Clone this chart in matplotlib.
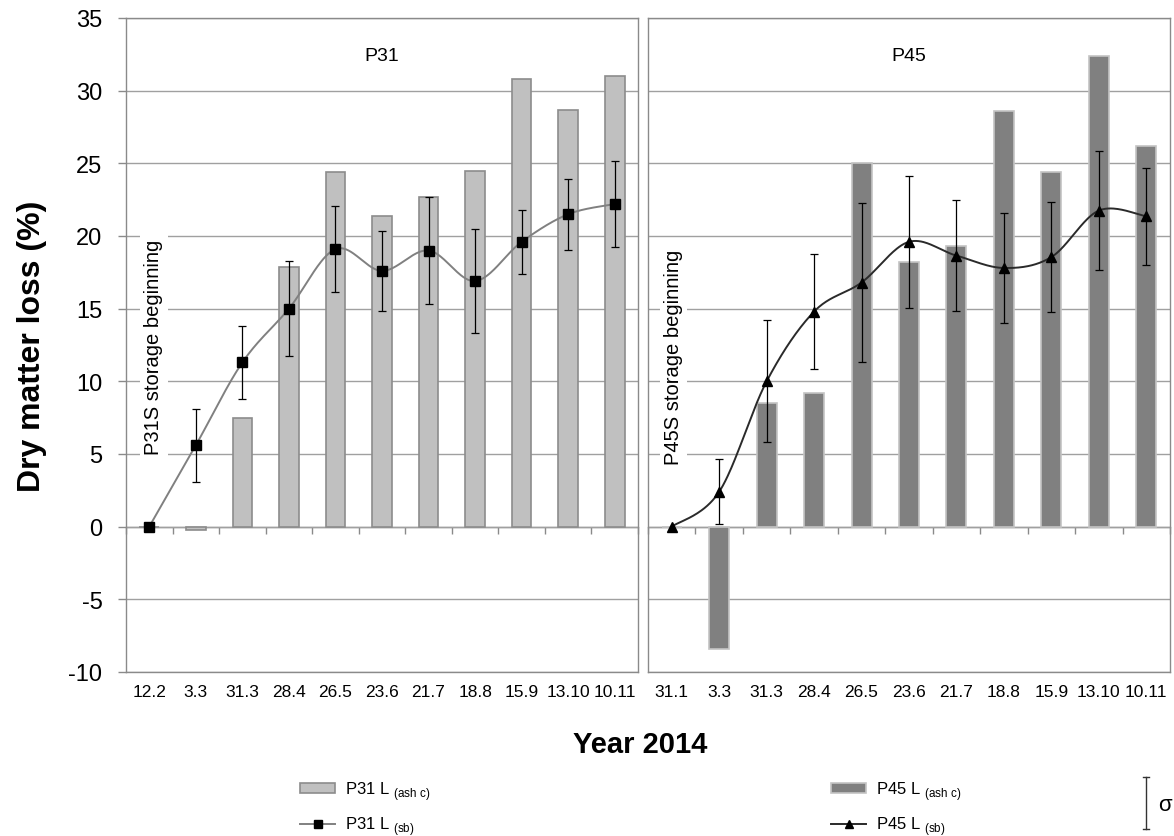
import numpy as np
import matplotlib
matplotlib.use("Agg")
import matplotlib.pyplot as plt
from matplotlib.lines import Line2D
from matplotlib.patches import Patch

plt.rcParams['font.family'] = ['Liberation Sans', 'DejaVu Sans']
plt.rcParams['mathtext.fontset'] = 'custom'
plt.rcParams['mathtext.rm'] = 'Liberation Sans'
plt.rcParams['axes.unicode_minus'] = False

# ---------------- data ----------------
dates_p31 = ["12.2", "3.3", "31.3", "28.4", "26.5", "23.6", "21.7", "18.8", "15.9", "13.10", "10.11"]
dates_p45 = ["31.1", "3.3", "31.3", "28.4", "26.5", "23.6", "21.7", "18.8", "15.9", "13.10", "10.11"]

p31_ash = [0.0, -0.2, 7.5, 17.9, 24.4, 21.4, 22.7, 24.5, 30.8, 28.7, 31.0]
p31_sb = [0.0, 5.6, 11.3, 15.0, 19.1, 17.6, 19.0, 16.9, 19.6, 21.5, 22.2]
p31_sd = [0.0, 2.5, 2.5, 3.25, 2.95, 2.75, 3.65, 3.55, 2.2, 2.45, 2.95]

p45_ash = [0.0, -8.4, 8.5, 9.2, 25.0, 18.2, 19.3, 28.6, 24.4, 32.4, 26.2]
p45_sb = [0.0, 2.4, 10.0, 14.8, 16.8, 19.6, 18.65, 17.8, 18.55, 21.75, 21.35]
p45_sd = [0.0, 2.25, 4.2, 3.95, 5.45, 4.55, 3.8, 3.8, 3.8, 4.1, 3.35]

yticks = [-10, -5, 0, 5, 10, 15, 20, 25, 30, 35]

GRID = '#a0a0a0'
SPINE = '#8a8a8a'


def smooth(xv, yv, n=40):
    pts = np.column_stack([xv, yv]).astype(float)
    m = len(pts)
    out = []
    t = np.linspace(0, 1, n)[:, None]
    for i in range(m - 1):
        p0 = pts[max(i - 1, 0)]
        p1 = pts[i]
        p2 = pts[i + 1]
        p3 = pts[min(i + 2, m - 1)]
        c1 = p1 + (p2 - p0) / 6.0
        c2 = p2 - (p3 - p1) / 6.0
        seg = ((1 - t) ** 3) * p1 + 3 * ((1 - t) ** 2) * t * c1 + 3 * (1 - t) * t ** 2 * c2 + t ** 3 * p2
        out.append(seg if i == 0 else seg[1:])
    out = np.vstack(out)
    return out[:, 0], out[:, 1]


fig = plt.figure(figsize=(11.74, 8.37), dpi=100)
W, H = 1174.0, 837.0
ax1 = fig.add_axes([126 / W, 1 - 673 / H, 512 / W, 654 / H])
ax2 = fig.add_axes([648 / W, 1 - 673 / H, 522 / W, 654 / H])


def panel(ax, labels, ash, sb, sd, bar_fc, bar_ec, line_c, marker, title, note, note_xy):
    x = np.arange(len(labels))
    ax.set_xlim(-0.5, len(labels) - 0.5)
    ax.set_ylim(-10, 35)
    ax.set_axisbelow(True)
    ax.yaxis.grid(True, color=GRID, linewidth=1.0)
    ax.bar(x, ash, width=0.42, color=bar_fc, edgecolor=bar_ec, linewidth=1.2, zorder=2)
    xs, ys = smooth(x, sb)
    ax.plot(xs, ys, color=line_c, linewidth=1.4, zorder=3)
    sd = np.asarray(sd)
    mask = sd > 0
    ax.errorbar(x[mask], np.asarray(sb)[mask], yerr=sd[mask], fmt='none', ecolor='black',
                elinewidth=0.9, capsize=3, capthick=0.9, zorder=4)
    ax.plot(x, sb, linestyle='none', marker=marker, color='black', markersize=6.5, zorder=5)
    ax.set_xticks(x, labels)
    ax.tick_params(axis='x', length=0, pad=9, labelsize=12.5)
    for s in ax.spines.values():
        s.set_color(SPINE)
        s.set_linewidth(1.0)
    sec = ax.secondary_xaxis(0, transform=ax.transData)
    sec.set_xticks(np.arange(-0.5, len(labels), 1.0))
    sec.tick_params(axis='x', length=5, width=1.0, color=SPINE, labelbottom=False, direction='out')
    sec.spines['bottom'].set_color(SPINE)
    sec.spines['bottom'].set_linewidth(1.0)
    ax.text((len(labels) - 1) / 2, 32.4, title, ha='center', va='center', fontsize=14)
    ax.text(note_xy[0], note_xy[1], note, rotation=90, ha='center', va='center', fontsize=14.5,
            bbox=dict(facecolor='white', edgecolor='none', pad=3), zorder=3.5)


panel(ax1, dates_p31, p31_ash, p31_sb, p31_sd, '#c0c0c0', '#8c8c8c', '#808080', 's',
      'P31', 'P31S storage beginning', (0.1, 12.4))
panel(ax2, dates_p45, p45_ash, p45_sb, p45_sd, '#808080', '#c4c4c4', '#2a2a2a', '^',
      'P45', 'P45S storage beginning', (0.04, 11.7))

ax1.set_yticks(yticks)
ax1.tick_params(axis='y', length=6, width=1.0, color=SPINE, labelsize=17, pad=11)
ax2.set_yticks(yticks)
ax2.tick_params(axis='y', length=0, labelleft=False)

fig.text(32 / W, 1 - 346 / H, 'Dry matter loss (%)', rotation=90, ha='center', va='center',
         fontsize=23, fontweight='bold')
fig.text(640 / W, 1 - 745 / H, 'Year 2014', ha='center', va='center', fontsize=21, fontweight='bold')

# legends
h31 = [Patch(facecolor='#c0c0c0', edgecolor='#8c8c8c', linewidth=1.2),
       Line2D([], [], color='#808080', linewidth=1.4, marker='s', markersize=6,
              markerfacecolor='black', markeredgecolor='black')]
l31 = ['P31 L $_{\\mathregular{(ash\\ c)}}$', 'P31 L $_{\\mathregular{(sb)}}$']
h45 = [Patch(facecolor='#808080', edgecolor='#c4c4c4', linewidth=1.2),
       Line2D([], [], color='#2a2a2a', linewidth=1.4, marker='^', markersize=6,
              markerfacecolor='black', markeredgecolor='black')]
l45 = ['P45 L $_{\\mathregular{(ash\\ c)}}$', 'P45 L $_{\\mathregular{(sb)}}$']
for hh, ll, xa in ((h31, l31, 300), (h45, l45, 831)):
    fig.legend(hh, ll, loc='upper left', bbox_to_anchor=(xa / W, 1 - 780 / H), frameon=False,
               fontsize=12, handlelength=2.1, handleheight=0.5, labelspacing=0.75,
               borderpad=0, borderaxespad=0, handletextpad=0.6)

fig.text(1158 / W, 1 - 806 / H, 'σ', ha='left', va='center', fontsize=16)
fig.add_artist(Line2D([1146 / W, 1146 / W], [1 - 778 / H, 1 - 830 / H], color='#333333', linewidth=1.0))
fig.add_artist(Line2D([1143 / W, 1149 / W], [1 - 778 / H, 1 - 778 / H], color='#333333', linewidth=1.0))
fig.add_artist(Line2D([1143 / W, 1149 / W], [1 - 830 / H, 1 - 830 / H], color='#333333', linewidth=1.0))

fig.savefig('out.png', dpi=100)
